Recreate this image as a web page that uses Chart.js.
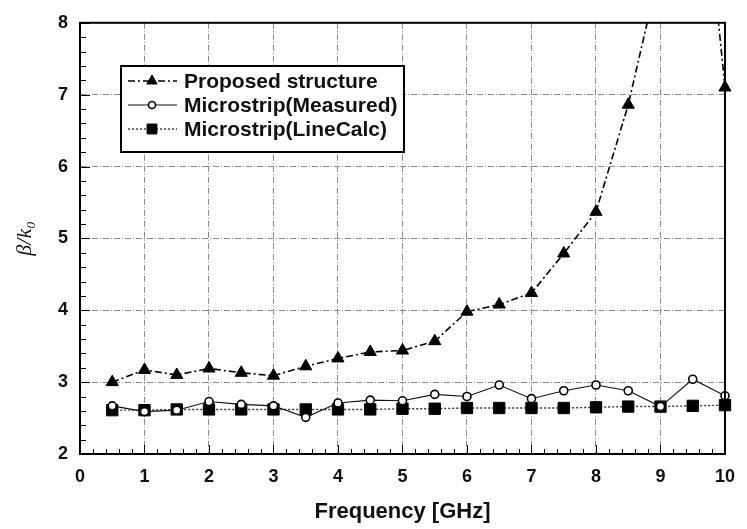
<!DOCTYPE html>
<html>
<head>
<meta charset="utf-8">
<script src="https://cdn.jsdelivr.net/npm/chart.js@4.4.1/dist/chart.umd.min.js"></script>
<style>
  html, body { margin: 0; padding: 0; background: #ffffff; }
  #wrap { width: 747px; height: 529px; }
</style>
</head>
<body>
<div id="wrap"><canvas id="c" width="747" height="529"></canvas></div>
<script>
// ---- data ----
const frequencies = [0.5, 1, 1.5, 2, 2.5, 3, 3.5, 4, 4.5, 5, 5.5, 6, 6.5, 7, 7.5, 8, 8.5, 9, 9.5, 10];
const proposed    = [3.00, 3.17, 3.10, 3.19, 3.13, 3.09, 3.22, 3.33, 3.42, 3.44, 3.57, 3.98, 4.08, 4.24, 4.79, 5.37, 6.86, 8.8, 11.6, 7.10];
const measured    = [2.67, 2.59, 2.61, 2.73, 2.69, 2.67, 2.51, 2.71, 2.75, 2.74, 2.83, 2.80, 2.96, 2.77, 2.88, 2.96, 2.88, 2.66, 3.04, 2.81];
const lineCalc    = [2.61, 2.61, 2.62, 2.62, 2.62, 2.62, 2.62, 2.62, 2.62, 2.63, 2.63, 2.64, 2.64, 2.64, 2.64, 2.65, 2.66, 2.66, 2.67, 2.68];
const seriesNames = ['Proposed structure', 'Microstrip(Measured)', 'Microstrip(LineCalc)'];
const xTickValues = [0, 1, 2, 3, 4, 5, 6, 7, 8, 9, 10];
const yTickValues = [2, 3, 4, 5, 6, 7, 8];
const xTitle = 'Frequency [GHz]';
const yTitle = 'β/k₀';

const FONT = "'Liberation Sans', Arial, Helvetica, sans-serif";

function pts(ys) { return frequencies.map((f, i) => ({ x: f, y: ys[i] })); }

const dsStyles = [
  { borderColor: '#000', borderWidth: 1.6, borderDash: [7, 3, 2, 3], pointStyle: 'triangle', pointRadius: 7, pointBackgroundColor: '#000', pointBorderColor: '#000', pointBorderWidth: 1 },
  { borderColor: '#111', borderWidth: 1.1, borderDash: [], pointStyle: 'circle', pointRadius: 4, pointBackgroundColor: '#fff', pointBorderColor: '#000', pointBorderWidth: 1.6 },
  { borderColor: '#333', borderWidth: 1.4, borderDash: [2, 2], pointStyle: 'rect', pointRadius: 8, pointBackgroundColor: '#000', pointBorderColor: '#000', pointBorderWidth: 1 }
];
const seriesData = [proposed, measured, lineCalc];

// minor ticks + frame + legend
const decorPlugin = {
  id: 'decor',
  afterDraw(chart) {
    const ctx = chart.ctx;
    const xs = chart.scales.x, ys = chart.scales.y;
    const a = chart.chartArea;
    ctx.save();
    ctx.strokeStyle = '#000';
    ctx.lineWidth = 1;
    for (let k = 0; k <= 50; k++) {
      const v = k * 0.2;
      const px = Math.round(xs.getPixelForValue(v)) + 0.5;
      const len = (k % 5 === 0) ? 9 : 5;
      ctx.beginPath(); ctx.moveTo(px, a.bottom); ctx.lineTo(px, a.bottom - len); ctx.stroke();
    }
    for (let k = 0; k <= 30; k++) {
      const v = 2 + k * 0.2;
      const py = Math.round(ys.getPixelForValue(v)) + 0.5;
      const len = (k % 5 === 0) ? 10 : 6;
      ctx.beginPath(); ctx.moveTo(a.left, py); ctx.lineTo(a.left + len, py); ctx.stroke();
    }
    ctx.lineWidth = 2;
    ctx.strokeRect(a.left, a.top, a.right - a.left, a.bottom - a.top);

    // legend
    const bx = 121, by = 66, bw = 283, bh = 86;
    ctx.fillStyle = '#fff';
    ctx.fillRect(bx, by, bw, bh);
    ctx.lineWidth = 2;
    ctx.strokeStyle = '#000';
    ctx.strokeRect(bx, by, bw, bh);
    const rows = [81, 105, 129];
    ctx.font = 'bold 21px ' + FONT;
    ctx.textBaseline = 'middle';
    ctx.textAlign = 'left';
    chart.data.datasets.forEach((ds, i) => {
      const y = rows[i];
      ctx.save();
      ctx.strokeStyle = ds.borderColor;
      ctx.lineWidth = ds.borderWidth;
      ctx.setLineDash(ds.borderDash || []);
      ctx.beginPath(); ctx.moveTo(128, y); ctx.lineTo(177, y); ctx.stroke();
      ctx.restore();
      ctx.save();
      ctx.fillStyle = ds.pointBackgroundColor;
      ctx.strokeStyle = ds.pointBorderColor;
      ctx.lineWidth = ds.pointBorderWidth;
      const r = ds.pointStyle === 'rect' ? 7 : (ds.pointStyle === 'triangle' ? 6 : 3.5);
      Chart.helpers.drawPoint(ctx, { pointStyle: ds.pointStyle, rotation: 0, radius: r, borderWidth: ds.pointBorderWidth }, 152, y);
      ctx.restore();
      ctx.fillStyle = '#111';
      ctx.fillText(ds.label, 184, y + 1);
    });
    ctx.restore();
  }
};

const chart = new Chart(document.getElementById('c'), {
  type: 'line',
  data: {
    datasets: seriesNames.map((name, i) => Object.assign({
      label: name,
      data: pts(seriesData[i]),
      fill: false,
      tension: 0,
      clip: { left: 10, right: 10, top: 0, bottom: 10 }
    }, dsStyles[i]))
  },
  options: {
    responsive: false,
    animation: false,
    layout: { padding: { left: 0, right: 17, top: 22, bottom: 0 } },
    plugins: { legend: { display: false }, tooltip: { enabled: false } },
    scales: {
      x: {
        type: 'linear',
        min: 0, max: 10,
        afterFit(s) { s.height = 75; },
        afterBuildTicks(s) { s.ticks = xTickValues.map(v => ({ value: v })); },
        grid: { color: '#8c8c8c', lineWidth: 1, drawTicks: false },
        border: { display: true, color: '#000', width: 2, dash: [6, 2, 1, 2] },
        ticks: { color: '#111', padding: 12, font: { family: FONT, size: 18, weight: 'bold' }, maxRotation: 0 },
        title: { display: true, text: xTitle, color: '#111', font: { family: FONT, size: 22, weight: 'bold' }, padding: { top: 0, bottom: 4 } }
      },
      y: {
        type: 'linear',
        min: 2, max: 8,
        afterFit(s) { s.width = 80; },
        afterBuildTicks(s) { s.ticks = yTickValues.map(v => ({ value: v })); },
        grid: { color: '#8c8c8c', lineWidth: 1, drawTicks: false },
        border: { display: true, color: '#000', width: 2, dash: [6, 2, 1, 2] },
        ticks: { color: '#111', padding: 12, font: { family: FONT, size: 18, weight: 'bold' } },
        title: { display: true, text: yTitle, color: '#111', font: { family: "'Liberation Serif', 'DejaVu Serif', serif", size: 22, style: 'italic' }, padding: { top: 12, bottom: 0 } }
      }
    }
  },
  plugins: [decorPlugin]
});
</script>
</body>
</html>
